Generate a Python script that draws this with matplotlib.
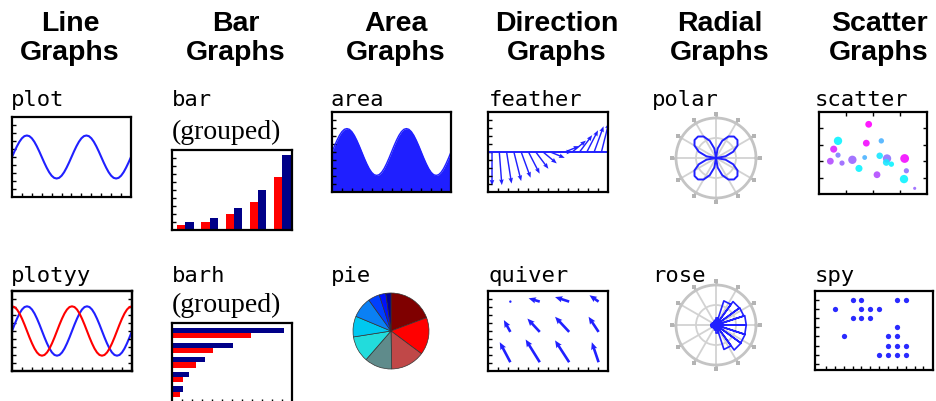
import numpy as np
import matplotlib
matplotlib.use("Agg")
import matplotlib.pyplot as plt

# ---------------- data ----------------
header_words = ["Line", "Bar", "Area", "Direction", "Radial", "Scatter"]
header_second = "Graphs"
top_labels = ["plot", "bar", "area", "feather", "polar", "scatter"]
bottom_labels = ["plotyy", "barh", "pie", "quiver", "rose", "spy"]
grouped_note = "(grouped)"

# wave samples every 15 degrees over two cycles
wave_sin = [0, .26, .5, .71, .87, .97, 1, .97, .87, .71, .5, .26,
            0, -.26, -.5, -.71, -.87, -.97, -1, -.97, -.87, -.71, -.5, -.26,
            0, .26, .5, .71, .87, .97, 1, .97, .87, .71, .5, .26,
            0, -.26, -.5, -.71, -.87, -.97, -1, -.97, -.87, -.71, -.5, -.26, 0]
wave_cos = [1, .97, .87, .71, .5, .26, 0, -.26, -.5, -.71, -.87, -.97,
            -1, -.97, -.87, -.71, -.5, -.26, 0, .26, .5, .71, .87, .97,
            1, .97, .87, .71, .5, .26, 0, -.26, -.5, -.71, -.87, -.97,
            -1, -.97, -.87, -.71, -.5, -.26, 0, .26, .5, .71, .87, .97, 1]

bar_red = [1.3, 1.9, 4.0, 6.9, 13.2]
bar_blue = [1.9, 2.9, 5.5, 10.1, 18.75]

feather_u = [0, .35, .68, 1, 1.29, 1.53, 1.73, 1.88, 1.97, 2,
             1.97, 1.88, 1.73, 1.53, 1.29, 1, .68, .35, 0]
feather_v = [-2, -1.97, -1.88, -1.73, -1.53, -1.29, -1, -.68, -.35, 0,
             .35, .68, 1, 1.29, 1.53, 1.73, 1.88, 1.97, 2]

# polar radius every 10 degrees
polar_r = [0, .34, .64, .87, .98, .98, .87, .64, .34,
           0, .34, .64, .87, .98, .98, .87, .64, .34,
           0, .34, .64, .87, .98, .98, .87, .64, .34,
           0, .34, .64, .87, .98, .98, .87, .64, .34, 0]

scatter_x = [.46, .176, .577, .438, .136, .176, .105, .213, .309, .423,
             .562, .63, .623, .67, .793, .37, .537, .809, .787, .886]
scatter_y = [.85, .648, .648, .62, .547, .474, .40, .377, .417, .445,
             .466, .433, .385, .364, .433, .312, .235, .283, .182, .069]
scatter_c = [1.0, .05, .3, .95, .85, .5, .7, .6, .6, .3,
             .1, .55, .1, .05, .95, .05, .7, .55, .05, .6]
scatter_s = [24, 36, 15, 24, 26, 14, 24, 14, 36, 12,
             22, 36, 24, 15, 40, 26, 24, 14, 36, 5]

pie_values = [19.3, 15.9, 14.5, 11.7, 11.1, 8.8, 8.8, 4.9, 2.8, 2.2]
pie_colors = ["#7f0000", "#ff0000", "#c04848", "#5f8b8b", "#22dcdc",
              "#00c8f0", "#0a80f4", "#0040ff", "#0010ff", "#000098"]

quiver_x = [1, 2, 3, 4, 1, 2, 3, 4, 1, 2, 3, 4]
quiver_y = [3, 3, 3, 3, 2, 2, 2, 2, 1, 1, 1, 1]
quiver_u = [-.02, -.38, -.48, -.31, -.22, -.42, -.48, -.34, -.36, -.48, -.48, -.23]
quiver_v = [.01, .11, .15, .21, .39, .44, .5, .5, .66, .75, .72, .66]

# rose: counts per 18-degree bin starting at 0 degrees
rose_counts = [9.3, 9.0, 8.9, 7.8, 2.2, 1.5, 1.2, 1.0, 1.2, 1.5,
               1.6, 1.4, 1.1, 1.2, 1.6, 2.5, 7.9, 9.5, 9.4, 9.3]

spy_rows = [1, 1, 1, 1, 2, 2, 2, 2, 3, 3, 3, 4, 5, 5, 5, 6, 6, 6, 7, 7, 7, 7]
spy_cols = [4, 5, 9, 10, 2, 5, 6, 7, 4, 5, 6, 9, 3, 8, 9, 8, 9, 10, 7, 8, 9, 10]

# ---------------- layout helpers ----------------
W, H = 937, 402
fig = plt.figure(figsize=(W / 100, H / 100), dpi=100)
BLUE = "#2020ff"
NAVY = "#000088"
RED = "#ff0000"


def rect(l, t, r, b):
    return [l / W, 1 - b / H, (r - l) / W, (b - t) / H]


def circ(cx, cy, rad):
    return rect(cx - rad, cy - rad, cx + rad, cy + rad)


def txt(x, y, s, **kw):
    fig.text(x / W, 1 - y / H, s, **kw)


def box(ax, nx=0, ny=0, xt=None, yt=None, right=False, top=False):
    x0, x1 = ax.get_xlim()
    y0, y1 = ax.get_ylim()
    for sp in ax.spines.values():
        sp.set_linewidth(1.6)
        sp.set_color("black")
    if xt is None:
        xt = np.linspace(x0, x1, nx + 1)[1:-1] if nx else []
    if yt is None:
        yt = np.linspace(y0, y1, ny + 1)[1:-1] if ny else []
    ax.set_xticks(xt)
    ax.set_yticks(yt)
    ax.tick_params(direction="in", length=2.6, width=1.0, colors="black",
                   labelbottom=False, labelleft=False, labeltop=False,
                   labelright=False, top=top, right=right)
    ax.set_xlim(x0, x1)
    ax.set_ylim(y0, y1)


def polar_style(ax, rmax):
    ax.set_ylim(0, rmax)
    ax.set_xticks(np.deg2rad(np.arange(0, 360, 30)))
    ax.set_xticklabels([])
    ax.set_yticks([rmax * 0.5])
    ax.set_yticklabels([])
    ax.grid(True, color="#d2d2d2", linewidth=1.3)
    ax.spines["polar"].set_color("#c4c4c4")
    ax.spines["polar"].set_linewidth(2.0)
    ax.tick_params(axis="both", length=0)
    # small outer tick marks every 30 degrees
    for a in np.deg2rad(np.arange(0, 360, 30)):
        ax.plot([a, a], [rmax, rmax * 1.09], color="#b4b4b4", lw=1.8,
                clip_on=False, solid_capstyle="butt")
        ax.plot([a], [rmax * 1.09], marker="s", markersize=2.2,
                color="#b4b4b4", markeredgewidth=0, clip_on=False)


mono = dict(family="DejaVu Sans Mono", fontsize=16, ha="left", va="baseline")
serif = dict(family="Liberation Serif", fontsize=20, ha="left", va="baseline")
head = dict(family="Liberation Sans", fontsize=20.5, fontweight="bold",
            ha="center", va="baseline")

# ---------------- headers & labels ----------------
for word, hx in zip(header_words, [70, 236, 396, 557, 720, 879]):
    txt(hx, 31, word, **head)
    txt(hx, 60, header_second, **head)

for lab, lx in zip(top_labels, [11, 172, 331, 489, 652, 815]):
    txt(lx, 106, lab, **mono)
for lab, lx in zip(bottom_labels, [11, 172, 331, 489, 652, 815]):
    txt(lx, 282, lab, **mono)
txt(172, 139, grouped_note, **serif)
txt(172, 312, grouped_note, **serif)

wave_x = np.arange(len(wave_sin))

# ---------------- plot ----------------
ax = fig.add_axes(rect(12, 118, 131, 198))
ax.plot(wave_x, wave_sin, color=BLUE, lw=1.5)
ax.set_xlim(0, len(wave_sin) - 1)
ax.set_ylim(-1.86, 1.86)
box(ax, nx=12, ny=10)

# ---------------- bar (grouped) ----------------
ax = fig.add_axes(rect(172, 151, 292, 231))
gx = np.arange(1, len(bar_red) + 1)
ax.bar(gx - 0.17, bar_red, width=0.34, color=RED)
ax.bar(gx + 0.17, bar_blue, width=0.34, color=NAVY)
ax.set_xlim(0.45, 5.4)
ax.set_ylim(0, 20)
box(ax, nx=0, ny=10)

# ---------------- area ----------------
ax = fig.add_axes(rect(332, 113, 451, 193))
ax.fill_between(wave_x, -1.71, wave_sin, color="#1f1fff", lw=0)
ax.plot(wave_x, wave_sin, color="#1f1fff", lw=1.0)
ax.set_xlim(0, len(wave_sin) - 1)
ax.set_ylim(-1.71, 1.71)
box(ax, nx=12, ny=10)

# ---------------- feather ----------------
ax = fig.add_axes(rect(488, 113, 608, 193))
fx = np.arange(1, len(feather_u) + 1)
ax.axhline(0, color=BLUE, lw=1.4)
ax.quiver(fx, np.zeros(len(fx)), feather_u, feather_v, angles="xy",
          scale_units="xy", scale=1, color=BLUE, width=0.012,
          headwidth=3.2, headlength=4.0, headaxislength=3.6)
ax.set_xlim(0.45, 16.9)
ax.set_ylim(-2.38, 2.38)
box(ax, nx=12, ny=10)

# ---------------- polar ----------------
ax = fig.add_axes(circ(716, 159, 40), projection="polar")
ax.plot(np.deg2rad(np.arange(0, 361, 10)), polar_r, color=BLUE, lw=1.4)
polar_style(ax, 1.40)

# ---------------- scatter ----------------
ax = fig.add_axes(rect(819, 113, 927, 195))
ax.scatter(scatter_x, scatter_y, s=scatter_s, c=scatter_c, cmap="cool",
           vmin=0, vmax=1, edgecolors="none", alpha=0.9)
ax.set_xlim(0, 1)
ax.set_ylim(0, 1)
box(ax, xt=[.25, .5, .75], yt=[.2, .4, .6, .8], right=True, top=True)

# ---------------- plotyy ----------------
ax = fig.add_axes(rect(12, 292, 132, 372))
ax.plot(wave_x, wave_sin, color=BLUE, lw=1.5)
ax.set_xlim(0, len(wave_sin) - 1)
ax.set_ylim(-1.62, 1.62)
box(ax, nx=12, ny=10)
ax2 = ax.twinx()
ax2.plot(wave_x, wave_cos, color=RED, lw=1.5)
ax2.set_ylim(-1.62, 1.62)
ax2.set_yticks(np.linspace(-1.62, 1.62, 11)[1:-1])
ax2.tick_params(direction="in", length=2.6, width=1.0, labelright=False)
for sp in ax2.spines.values():
    sp.set_linewidth(1.6)

# ---------------- barh (grouped) ----------------
ax = fig.add_axes(rect(172, 324, 292, 404))
gy = np.arange(1, len(bar_red) + 1)
ax.barh(gy - 0.18, bar_red, height=0.36, color=RED)
ax.barh(gy + 0.18, bar_blue, height=0.36, color=NAVY)
ax.set_xlim(0, 20)
ax.set_ylim(0.22, 5.7)
box(ax, nx=12, ny=0)

# ---------------- pie ----------------
ax = fig.add_axes(circ(391, 332, 38))
ax.pie(pie_values, colors=pie_colors, startangle=90, counterclock=False,
       wedgeprops=dict(edgecolor="#333333", linewidth=0.5))
ax.set_xlim(-1.0, 1.0)
ax.set_ylim(-1.0, 1.0)

# ---------------- quiver ----------------
ax = fig.add_axes(rect(488, 292, 608, 372))
ax.quiver(quiver_x, quiver_y, quiver_u, quiver_v, angles="xy",
          scale_units="xy", scale=1, color=BLUE, width=0.022,
          headwidth=2.4, headlength=2.8, headaxislength=2.5)
ax.set_xlim(0.24, 4.32)
ax.set_ylim(0.71, 3.35)
box(ax, nx=12, ny=10)

# ---------------- rose ----------------
ax = fig.add_axes(circ(716, 326, 40), projection="polar")
edges = np.linspace(0, 2 * np.pi, len(rose_counts) + 1)
th, rr = [], []
for i, c in enumerate(rose_counts):
    th += [0, edges[i], edges[i + 1], 0]
    rr += [0, c, c, 0]
ax.plot(th, rr, color=BLUE, lw=1.2)
polar_style(ax, 12.3)

# ---------------- spy ----------------
ax = fig.add_axes(rect(815, 292, 933, 371))
ax.plot(spy_cols, spy_rows, linestyle="none", marker="o", markersize=3.8,
        color="#2a2aff", markeredgewidth=0)
ax.set_xlim(-0.26, 13.09)
ax.set_ylim(8.69, 0.01)
box(ax, xt=list(range(1, 13)), yt=list(range(1, 9)))

fig.savefig("out.png", dpi=100)
